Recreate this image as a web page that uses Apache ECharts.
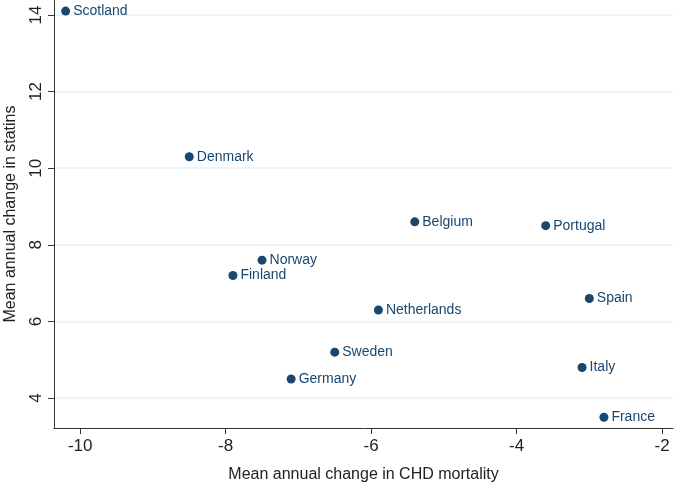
<!DOCTYPE html>
<html>
<head>
<meta charset="utf-8">
<script src="https://cdn.jsdelivr.net/npm/echarts@6/dist/echarts.min.js"></script>
<style>html,body{margin:0;padding:0;background:#fff}#c{width:675px;height:486px}</style>
</head>
<body>
<div id="c"></div>
<script>
const countries = ['Scotland','Denmark','Belgium','Portugal','Norway','Finland','Spain','Netherlands','Sweden','Germany','Italy','France'];
const chdChange = [-10.2,-8.5,-5.4,-3.6,-7.5,-7.9,-3.0,-5.9,-6.5,-7.1,-3.1,-2.8];
const statinChange = [14.1,10.3,8.6,8.5,7.6,7.2,6.6,6.3,5.2,4.5,4.8,3.5];
const xTicks = [-10,-8,-6,-4,-2];
const yTicks = [4,6,8,10,12,14];

const data = countries.map((c,i)=>({value:[chdChange[i],statinChange[i]],name:c}));
const font = 'Liberation Sans, Arial, Helvetica, sans-serif';
const chart = echarts.init(document.getElementById('c'));
chart.setOption({
  animation:false,
  backgroundColor:'#ffffff',
  grid:{left:54,right:2,top:0,bottom:58,containLabel:false,outerBoundsMode:'none'},
  xAxis:{
    type:'value', min:-10.36, max:-1.85,
    name:'Mean annual change in CHD mortality', nameLocation:'middle', nameGap:39,
    nameTextStyle:{fontFamily:font,fontSize:16,color:'#222'},
    axisLine:{show:true,onZero:false,lineStyle:{color:'#333',width:1}},
    axisTick:{show:true,length:6,customValues:xTicks,lineStyle:{color:'#333'}},
    axisLabel:{customValues:xTicks,fontFamily:font,fontSize:17,color:'#222',margin:10},
    splitLine:{show:false}
  },
  yAxis:{
    type:'value', min:3.22, max:14.39,
    name:'Mean annual change in statins', nameLocation:'middle', nameGap:35,
    nameTextStyle:{fontFamily:font,fontSize:16,color:'#222'},
    axisLine:{show:true,onZero:false,lineStyle:{color:'#333',width:1}},
    axisTick:{show:true,length:6,customValues:yTicks,lineStyle:{color:'#333'}},
    axisLabel:{customValues:yTicks,rotate:90,fontFamily:font,fontSize:17,color:'#222',margin:9},
    splitLine:{show:true,lineStyle:{color:'#eaf2f3',width:1.5}}
  },
  series:[{
    type:'scatter', data:data, symbolSize:9,
    itemStyle:{color:'#1a476f',opacity:1},
    label:{show:true,position:'right',distance:3,formatter:p=>p.name,
      fontFamily:font,fontSize:14,color:'#1a476f'}
  }]
});
</script>
</body>
</html>
